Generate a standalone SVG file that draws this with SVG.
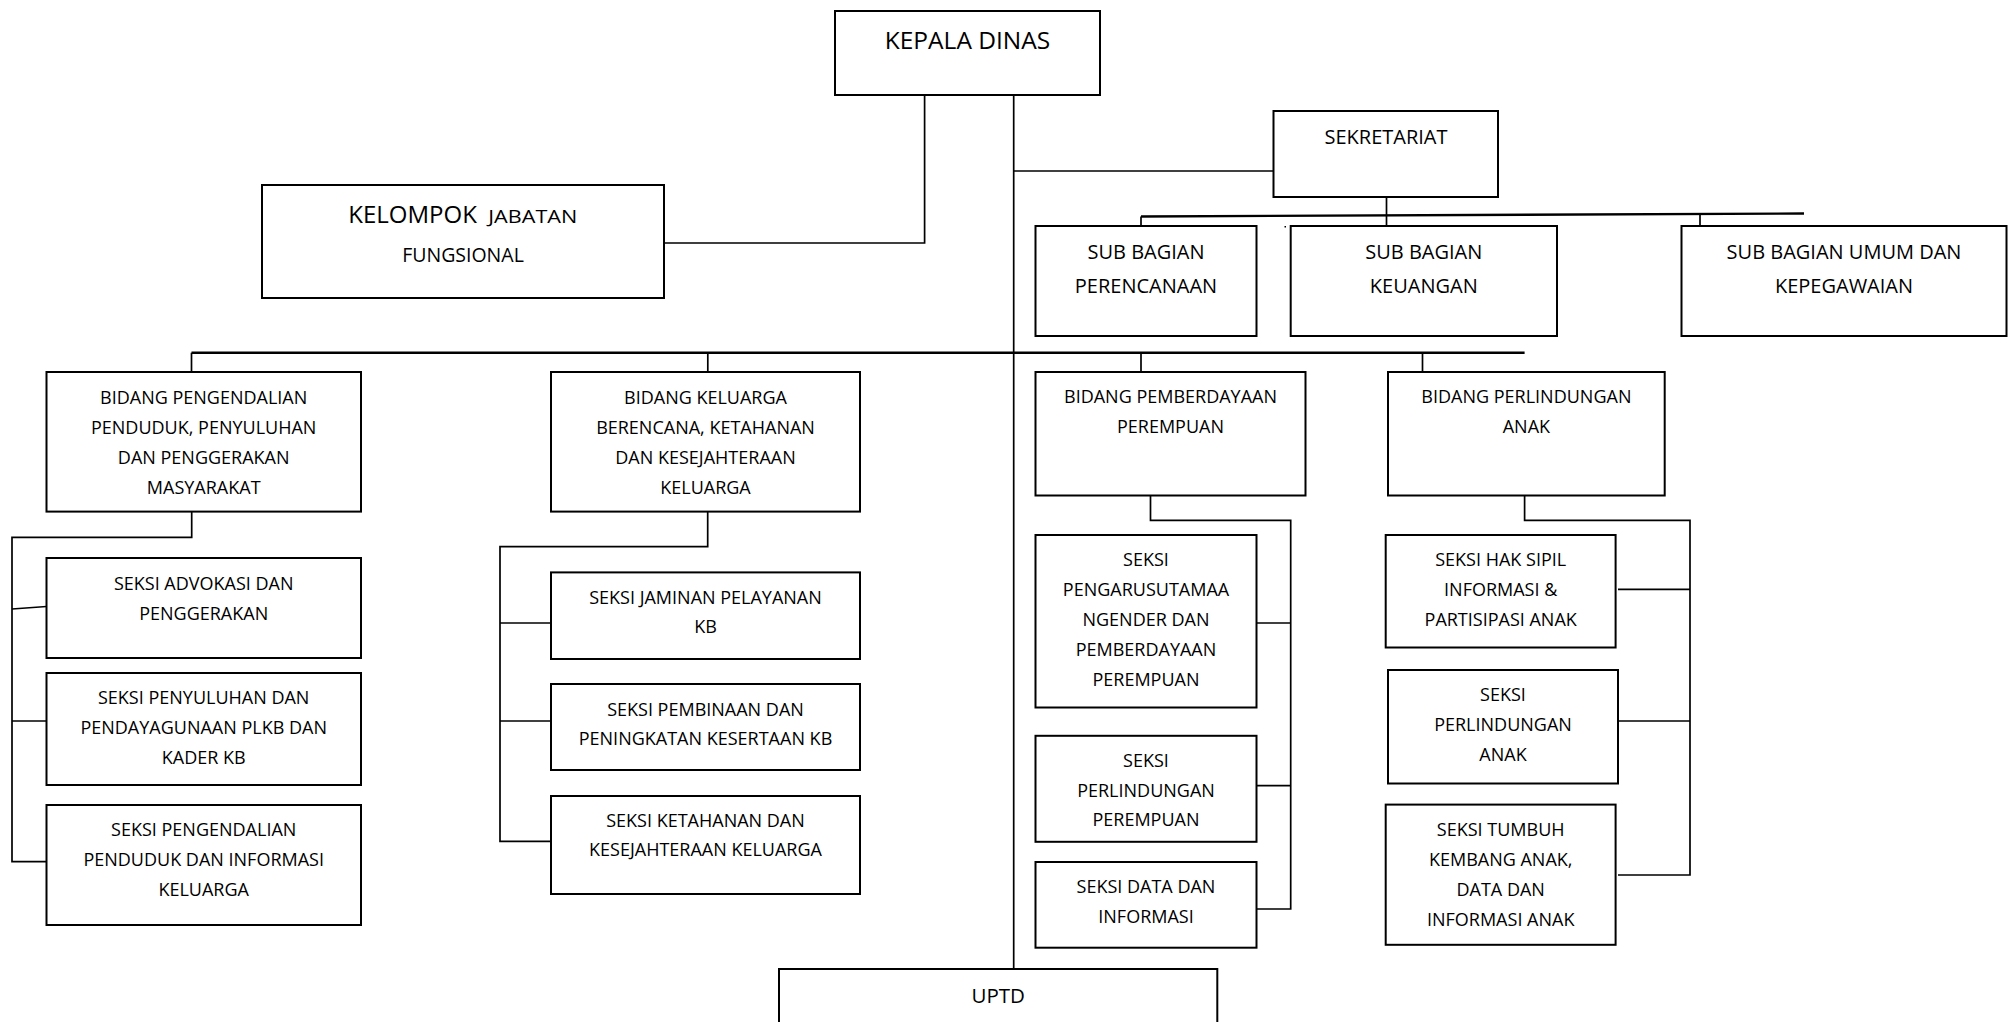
<svg xmlns="http://www.w3.org/2000/svg" width="2013" height="1022" viewBox="0 0 2013 1022">
<style>
.box{fill:#fff;stroke:#000;stroke-width:2}
.ln{fill:none;stroke:#000;stroke-width:1.7}
.bar{fill:none;stroke:#000;stroke-width:2.4}
text{font-family:"Open Sans","Liberation Sans",sans-serif;fill:#000;text-anchor:middle}
.t{font-size:18px}
.m{font-size:20px}
.l{font-size:24.5px}
</style>
<rect width="2013" height="1022" fill="#fff"/>
<g id="connectors">
<polyline class="ln" points="924.6,95 924.6,243 664,243"/>
<line class="ln" x1="1013.7" y1="95" x2="1013.7" y2="969"/>
<line class="ln" x1="1013.7" y1="171" x2="1274" y2="171"/>
<line class="ln" x1="1386.5" y1="197" x2="1386.5" y2="226"/>
<line class="bar" x1="1141" y1="216.5" x2="1804" y2="213.5"/>
<line class="ln" x1="1141" y1="216.5" x2="1141" y2="226"/>
<line class="ln" x1="1700" y1="214" x2="1700" y2="226"/>
<line class="bar" x1="191.5" y1="352.7" x2="1524.6" y2="352.7"/>
<line class="ln" x1="191.5" y1="352.7" x2="191.5" y2="372"/>
<line class="ln" x1="707.8" y1="352.7" x2="707.8" y2="372"/>
<line class="ln" x1="1141" y1="352.7" x2="1141" y2="372"/>
<line class="ln" x1="1422.5" y1="352.7" x2="1422.5" y2="372"/>
<polyline class="ln" points="191.7,511.6 191.7,537.3 12,537.3 12,861.6 46.5,861.6"/>
<line class="ln" x1="12" y1="609" x2="46.5" y2="606.5"/>
<line class="ln" x1="12" y1="721" x2="46.5" y2="721"/>
<polyline class="ln" points="707.7,511.6 707.7,546.6 500,546.6 500,841.3 551,841.3"/>
<line class="ln" x1="500" y1="623" x2="551" y2="623"/>
<line class="ln" x1="500" y1="721" x2="551" y2="721"/>
<polyline class="ln" points="1150.5,495.5 1150.5,520.4 1290.7,520.4 1290.7,909 1256.5,909"/>
<line class="ln" x1="1256.5" y1="623" x2="1290.7" y2="623"/>
<line class="ln" x1="1256.5" y1="785.6" x2="1290.7" y2="785.6"/>
<polyline class="ln" points="1524.6,495.5 1524.6,520.4 1690,520.4 1690,875 1618,875"/>
<line class="ln" x1="1618" y1="589.3" x2="1690" y2="589.3"/>
<line class="ln" x1="1618" y1="721" x2="1690" y2="721"/>
<rect x="1284.5" y="226" width="1.5" height="1.5" fill="#000"/>
</g>
<g id="kepala-dinas"><rect class="box" x="835" y="11" width="265" height="84"/><text class="l" x="967.5" y="49">KEPALA DINAS</text></g>
<g id="kelompok"><rect class="box" x="262" y="185" width="402" height="113"/><text x="348.3" y="223.3" style="text-anchor:start" font-size="24px">KELOMPOK</text><text x="488.3" y="223.3" style="text-anchor:start" font-size="17.5px" textLength="89" lengthAdjust="spacingAndGlyphs">JABATAN</text><text x="463" y="261.5" font-size="19.5px">FUNGSIONAL</text></g>
<g id="sekretariat"><rect class="box" x="1273.5" y="111" width="224.5" height="86"/><text class="m" x="1386" y="144">SEKRETARIAT</text></g>
<g id="sub-perencanaan"><rect class="box" x="1035.5" y="226" width="221" height="110"/><text class="m" x="1146" y="259">SUB BAGIAN</text><text class="m" x="1146" y="292.5">PERENCANAAN</text></g>
<g id="sub-keuangan"><rect class="box" x="1290.7" y="226" width="266.3" height="110"/><text class="m" x="1423.8" y="259">SUB BAGIAN</text><text class="m" x="1423.8" y="292.5">KEUANGAN</text></g>
<g id="sub-umum"><rect class="box" x="1681.5" y="226" width="325" height="110"/><text class="m" x="1844" y="259">SUB BAGIAN UMUM DAN</text><text class="m" x="1844" y="292.5">KEPEGAWAIAN</text></g>
<g id="bidang-pengendalian"><rect class="box" x="46.5" y="372" width="314.5" height="139.6"/><text class="t" x="203.7" y="404">BIDANG PENGENDALIAN</text><text class="t" x="203.7" y="434">PENDUDUK, PENYULUHAN</text><text class="t" x="203.7" y="464">DAN PENGGERAKAN</text><text class="t" x="203.7" y="494">MASYARAKAT</text></g>
<g id="seksi-advokasi"><rect class="box" x="46.5" y="558" width="314.5" height="100"/><text class="t" x="203.7" y="590">SEKSI ADVOKASI DAN</text><text class="t" x="203.7" y="620">PENGGERAKAN</text></g>
<g id="seksi-penyuluhan"><rect class="box" x="46.5" y="673" width="314.5" height="112"/><text class="t" x="203.7" y="704">SEKSI PENYULUHAN DAN</text><text class="t" x="203.7" y="734">PENDAYAGUNAAN PLKB DAN</text><text class="t" x="203.7" y="763.5">KADER KB</text></g>
<g id="seksi-pengendalian"><rect class="box" x="46.5" y="805" width="314.5" height="120"/><text class="t" x="203.7" y="836">SEKSI PENGENDALIAN</text><text class="t" x="203.7" y="866">PENDUDUK DAN INFORMASI</text><text class="t" x="203.7" y="895.5">KELUARGA</text></g>
<g id="bidang-keluarga"><rect class="box" x="551" y="372" width="309" height="139.6"/><text class="t" x="705.5" y="404">BIDANG KELUARGA</text><text class="t" x="705.5" y="434">BERENCANA, KETAHANAN</text><text class="t" x="705.5" y="464">DAN KESEJAHTERAAN</text><text class="t" x="705.5" y="494">KELUARGA</text></g>
<g id="seksi-jaminan"><rect class="box" x="551" y="572.4" width="309" height="86.6"/><text class="t" x="705.5" y="604">SEKSI JAMINAN PELAYANAN</text><text class="t" x="705.5" y="633">KB</text></g>
<g id="seksi-pembinaan"><rect class="box" x="551" y="684" width="309" height="86"/><text class="t" x="705.5" y="715.5">SEKSI PEMBINAAN DAN</text><text class="t" x="705.5" y="745">PENINGKATAN KESERTAAN KB</text></g>
<g id="seksi-ketahanan"><rect class="box" x="551" y="796" width="309" height="98"/><text class="t" x="705.5" y="826.5">SEKSI KETAHANAN DAN</text><text class="t" x="705.5" y="856">KESEJAHTERAAN KELUARGA</text></g>
<g id="bidang-pemberdayaan"><rect class="box" x="1035.5" y="372" width="270" height="123.5"/><text class="t" x="1170.5" y="403">BIDANG PEMBERDAYAAN</text><text class="t" x="1170.5" y="432.5">PEREMPUAN</text></g>
<g id="seksi-pengarusutamaan"><rect class="box" x="1035.5" y="535" width="221" height="172.5"/><text class="t" x="1146" y="566">SEKSI</text><text class="t" x="1146" y="596">PENGARUSUTAMAA</text><text class="t" x="1146" y="626">NGENDER DAN</text><text class="t" x="1146" y="656">PEMBERDAYAAN</text><text class="t" x="1146" y="686">PEREMPUAN</text></g>
<g id="seksi-perlindungan-perempuan"><rect class="box" x="1035.5" y="735.8" width="221" height="106"/><text class="t" x="1146" y="766.5">SEKSI</text><text class="t" x="1146" y="796.5">PERLINDUNGAN</text><text class="t" x="1146" y="826">PEREMPUAN</text></g>
<g id="seksi-data"><rect class="box" x="1035.5" y="862" width="221" height="85.7"/><text class="t" x="1146" y="892.5">SEKSI DATA DAN</text><text class="t" x="1146" y="922.5">INFORMASI</text></g>
<g id="bidang-perlindungan-anak"><rect class="box" x="1388" y="372" width="276.7" height="123.5"/><text class="t" x="1526.4" y="403">BIDANG PERLINDUNGAN</text><text class="t" x="1526.4" y="432.5">ANAK</text></g>
<g id="seksi-hak-sipil"><rect class="box" x="1385.7" y="535" width="229.9" height="112.5"/><text class="t" x="1500.7" y="566">SEKSI HAK SIPIL</text><text class="t" x="1500.7" y="596">INFORMASI &amp;</text><text class="t" x="1500.7" y="626">PARTISIPASI ANAK</text></g>
<g id="seksi-perlindungan-anak"><rect class="box" x="1388" y="670" width="230" height="113.5"/><text class="t" x="1503" y="701">SEKSI</text><text class="t" x="1503" y="731">PERLINDUNGAN</text><text class="t" x="1503" y="760.5">ANAK</text></g>
<g id="seksi-tumbuh-kembang"><rect class="box" x="1385.7" y="804.6" width="229.9" height="140.2"/><text class="t" x="1500.7" y="836">SEKSI TUMBUH</text><text class="t" x="1500.7" y="866">KEMBANG ANAK,</text><text class="t" x="1500.7" y="895.5">DATA DAN</text><text class="t" x="1500.7" y="926">INFORMASI ANAK</text></g>
<g id="uptd"><rect class="box" x="779" y="969" width="438.3" height="70"/><text x="998.2" y="1003.3" font-size="20.5px">UPTD</text></g>
</svg>
